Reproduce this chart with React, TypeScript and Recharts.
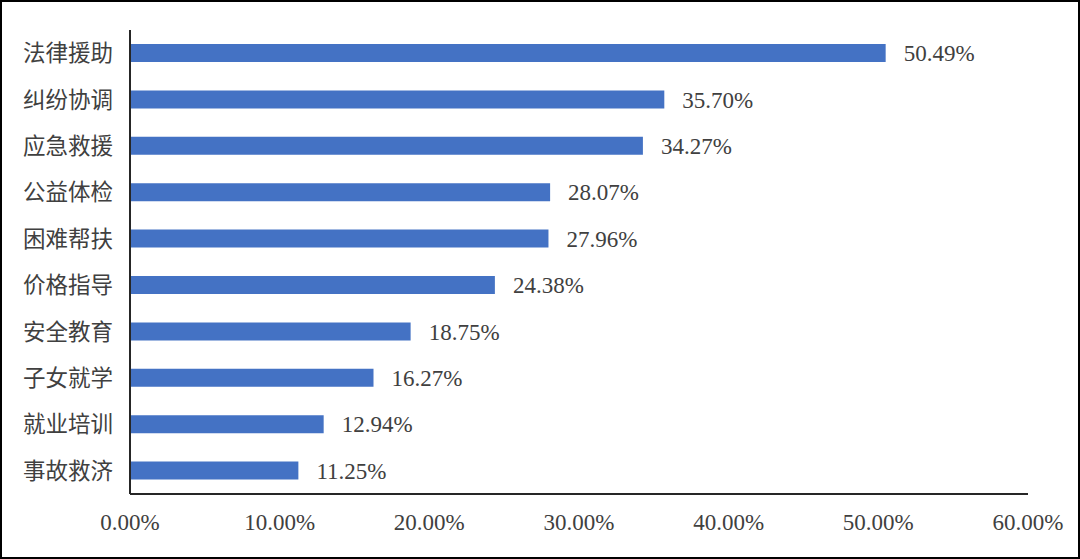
import { BarChart, Bar, XAxis, YAxis, LabelList } from 'recharts'

const categories = ['法律援助', '纠纷协调', '应急救援', '公益体检', '困难帮扶', '价格指导', '安全教育', '子女就学', '就业培训', '事故救济']
const shares = [50.49, 35.7, 34.27, 28.07, 27.96, 24.38, 18.75, 16.27, 12.94, 11.25]
const xTicks = [0, 10, 20, 30, 40, 50, 60]

const data = categories.map((name, i) => ({ name, value: shares[i] }))

const serif = '"Liberation Serif", "Times New Roman", serif'
const cjk = '"Liberation Serif", "Noto Sans CJK SC", serif'

export default function App() {
  return (
    <div style={{
      position: 'fixed', left: 0, top: 0, width: 1080, height: 559,
      border: '2px solid #000', boxSizing: 'border-box', background: '#fff'
    }}>
      <div style={{ position: 'absolute', left: -2, top: -2 }}>
        <BarChart
          width={1080} height={559} data={data} layout="vertical"
          margin={{ top: 30, right: 52, left: 20, bottom: 25 }}
        >
          <XAxis
            type="number" domain={[0, 60]} ticks={xTicks} interval={0}
            tickFormatter={(v: number) => v.toFixed(2) + '%'}
            tick={{ fill: '#404040', fontSize: 23, fontFamily: serif }}
            tickLine={false} tickMargin={14} height={40}
            axisLine={{ stroke: '#262626', strokeWidth: 2 }}
          />
          <YAxis
            type="category" dataKey="name" width={110}
            tick={{ fill: '#404040', fontSize: 22.5, fontFamily: cjk }}
            tickLine={false} tickMargin={11}
            axisLine={{ stroke: '#262626', strokeWidth: 2 }}
          />
          <Bar dataKey="value" fill="#4472C4" barSize={18} isAnimationActive={false}>
            <LabelList
              dataKey="value" position="right" offset={18}
              formatter={(v: any) => Number(v).toFixed(2) + '%'}
              style={{ fill: '#404040', fontSize: 23, fontFamily: serif }}
            />
          </Bar>
        </BarChart>
      </div>
    </div>
  )
}
